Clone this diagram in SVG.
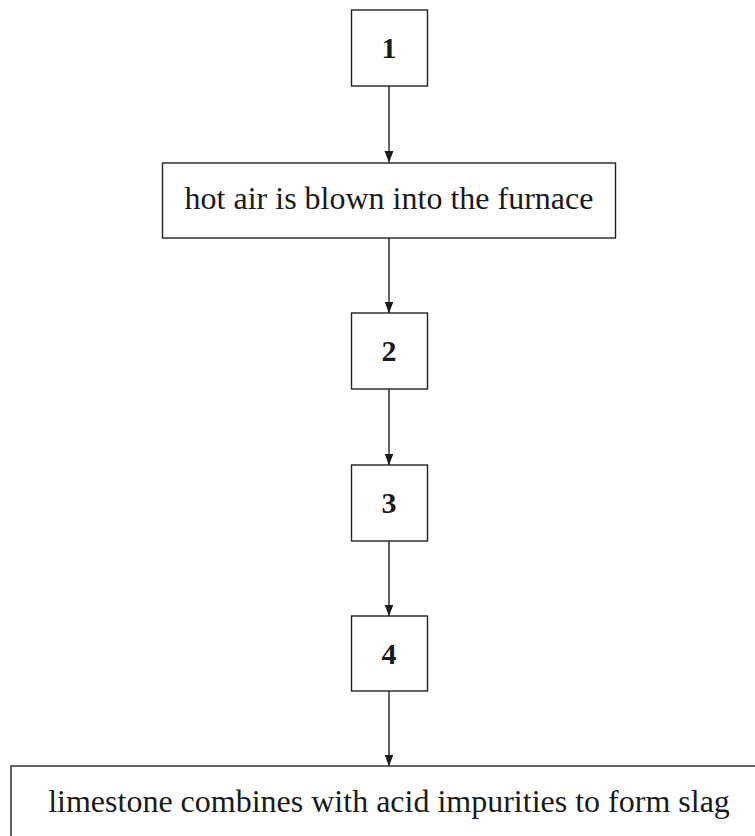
<svg xmlns="http://www.w3.org/2000/svg" width="755" height="836" viewBox="0 0 755 836">
<style>
.box{fill:#fff;stroke:#222;stroke-width:1.4}
.num{font-family:"Liberation Serif","Times New Roman",serif;font-weight:bold;font-size:30px;fill:#1a1a1a;text-anchor:middle}
.lbl{font-family:"Liberation Serif","Times New Roman",serif;font-size:32px;fill:#1a1a1a;text-anchor:middle}
.edge{stroke:#222;stroke-width:1.4;fill:none;marker-end:url(#arr)}
</style>
<defs>
<marker id="arr" markerUnits="userSpaceOnUse" markerWidth="12" markerHeight="10" viewBox="0 0 12 10" refX="11.5" refY="5" orient="auto">
<path d="M0,0.5 L11.5,5 L0,9.5 Z" fill="#1a1a1a"/>
</marker>
</defs>
<g id="connectors">
<line class="edge" x1="389" y1="86" x2="389" y2="162.5"/>
<line class="edge" x1="389" y1="238" x2="389" y2="313"/>
<line class="edge" x1="389" y1="389" x2="389" y2="465"/>
<line class="edge" x1="389" y1="541" x2="389" y2="616"/>
<line class="edge" x1="389" y1="691" x2="389" y2="766"/>
</g>
<g id="n1"><rect class="box" x="351.5" y="10" width="76" height="76"/><text class="num" x="389" y="57.5">1</text></g>
<g id="n_hot"><rect class="box" x="162.5" y="163" width="453" height="75"/><text class="lbl" x="389" y="209">hot air is blown into the furnace</text></g>
<g id="n2"><rect class="box" x="351.5" y="313" width="76" height="76"/><text class="num" x="389" y="361">2</text></g>
<g id="n3"><rect class="box" x="351.5" y="465" width="76" height="76"/><text class="num" x="389" y="513">3</text></g>
<g id="n4"><rect class="box" x="351.5" y="616" width="76" height="75"/><text class="num" x="389" y="664">4</text></g>
<g id="n_lime"><rect class="box" x="11" y="766" width="760" height="100"/><text class="lbl" x="389" y="812">limestone combines with acid impurities to form slag</text></g>
</svg>
